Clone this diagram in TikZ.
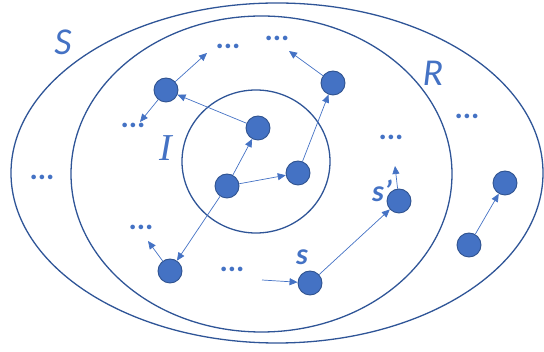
\documentclass[tikz,border=0pt]{standalone}
\usepackage{fontspec}
\setmainfont{Carlito}
\newfontfamily\serifit{Liberation Serif}
\usetikzlibrary{arrows.meta}
\definecolor{ringc}{HTML}{2F5597}
\definecolor{nodef}{HTML}{4472C4}
\definecolor{noded}{HTML}{2F528F}
\definecolor{txtc}{HTML}{4472C4}
\tikzset{
  ring/.style={draw=ringc, line width=1.3pt},
  st/.style={circle, fill=nodef, draw=noded, line width=0.9pt, minimum size=24pt, inner sep=0pt},
  arr/.style={draw=nodef, line width=0.7pt, -{Triangle[length=8pt,width=7pt]}},
  dots/.style={text=txtc, font=\fontsize{31}{31}\selectfont\bfseries, inner sep=0pt},
  setlbl/.style={text=txtc, font=\fontsize{38}{38}\selectfont\itshape, inner sep=0pt},
  stlbl/.style={text=txtc, font=\fontsize{30}{30}\selectfont\bfseries\itshape, inner sep=0pt}
}
\begin{document}
\begin{tikzpicture}[x=1pt,y=-1pt]
\useasboundingbox (0,0) rectangle (544,352);
% sets
\draw[ring] (277,173) ellipse [x radius=266, y radius=170];
\draw[ring] (261.5,174) ellipse [x radius=190.5, y radius=158];
\draw[ring] (256,161.5) ellipse [x radius=74, y radius=71.5];
% labels
\node[setlbl] (lS) at (63,42) {S};
\node[setlbl] (lR) at (433,73) {R};
\node[text=txtc, font=\fontsize{38}{38}\selectfont\serifit\itshape, inner sep=0pt] (lI) at (166,148) {I};
% states
\node[st] (n1) at (166,90) {};
\node[st] (n2) at (258,128) {};
\node[st] (n3) at (227,186) {};
\node[st] (n4) at (298,173) {};
\node[st] (n5) at (333,83) {};
\node[st] (n6) at (170,271) {};
\node[st] (n7) at (310,283) {};
\node[st] (n8) at (399,201) {};
\node[st] (n9) at (505,183) {};
\node[st] (n10) at (469,245) {};
\node[stlbl] (ls) at (302,257) {s};
\node[stlbl] (lsp) at (382,191) {s’};
% dots
\node[dots] (d1) at (228,46) {...};
\node[dots] (d2) at (277,38) {...};
\node[dots] (d3) at (133,125) {...};
\node[dots] (d4) at (391,137) {...};
\node[dots] (d5) at (467,116) {...};
\node[dots] (d6) at (42,177) {...};
\node[dots] (d7) at (141,227) {...};
\node[dots] (d8) at (232,269) {...};
% arrow ends
\coordinate (a1) at (207,53);
\coordinate (a3) at (140,122);
\coordinate (a2) at (289,51);
\coordinate (a4) at (395,166);
\coordinate (a7) at (148,241);
\coordinate (a8) at (262,280);
% arrows
\draw[arr] (n1) -- (a1);
\draw[arr] (n1) -- (a3);
\draw[arr] (n2) -- (n1);
\draw[arr] (n3) -- (n2);
\draw[arr] (n3) -- (n4);
\draw[arr] (n3) -- (n6);
\draw[arr] (n4) -- (n5);
\draw[arr] (n5) -- (a2);
\draw[arr] (n6) -- (a7);
\draw[arr] (a8) -- (n7);
\draw[arr] (n7) -- (n8);
\draw[arr] (n8) -- (a4);
\draw[arr] (n10) -- (n9);
\end{tikzpicture}
\end{document}
